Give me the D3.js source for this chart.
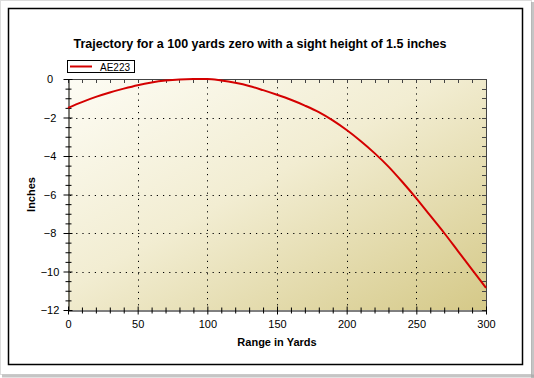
<!DOCTYPE html>
<html>
<head>
<meta charset="utf-8">
<script src="https://cdn.jsdelivr.net/npm/d3@7"></script>
<style>
  html, body { margin: 0; padding: 0; background: #ffffff; }
  svg { display: block; }
  text { font-family: "Liberation Sans", Arial, sans-serif; }
</style>
</head>
<body>
<svg id="chart" width="534" height="378"></svg>
<script>
// ---- data ----
const title = "Trajectory for a 100 yards zero with a sight height of 1.5 inches";
const seriesName = "AE223";
const rangeYards = [0, 10, 20, 30, 40, 50, 60, 70, 80, 90, 100, 110, 120, 130, 140, 150,
                    160, 170, 180, 190, 200, 210, 220, 230, 240, 250, 260, 270, 280, 290, 300];
const dropInches = [-1.50, -1.20, -0.93, -0.70, -0.50, -0.32, -0.18, -0.08, -0.02, 0.00, 0.00,
                    -0.08, -0.20, -0.36, -0.58, -0.82, -1.08, -1.38, -1.72, -2.15, -2.65,
                    -3.22, -3.85, -4.55, -5.35, -6.20, -7.10, -8.00, -8.95, -9.90, -10.85];
const xTicks = [0, 50, 100, 150, 200, 250, 300];
const yTicks = [0, -2, -4, -6, -8, -10, -12];
const xLabel = "Range in Yards";
const yLabel = "Inches";

// ---- layout ----
const svg = d3.select("#chart");
const plot = { left: 68, right: 486, top: 79, bottom: 310 };

const x = d3.scaleLinear().domain([0, 300]).range([plot.left, plot.right]);
const y = d3.scaleLinear().domain([-12, 0]).range([plot.bottom, plot.top]);

// outer frame (photo border with shadow on right/bottom)
svg.append("rect").attr("x", 0).attr("y", 0).attr("width", 534).attr("height", 378)
  .attr("fill", "#ffffff");
svg.append("rect").attr("x", 0.5).attr("y", 0.5).attr("width", 531).attr("height", 374)
  .attr("fill", "none").attr("stroke", "#dcdcdc").attr("stroke-width", 1);
svg.append("line").attr("x1", 2).attr("x2", 534).attr("y1", 376).attr("y2", 376)
  .attr("stroke", "#a0a0a0").attr("stroke-width", 3).attr("opacity", 0.6);
svg.append("line").attr("x1", 532.5).attr("x2", 532.5).attr("y1", 2).attr("y2", 378)
  .attr("stroke", "#a0a0a0").attr("stroke-width", 3).attr("opacity", 0.6);
svg.append("rect").attr("x", 8.5).attr("y", 8.5).attr("width", 514).attr("height", 356)
  .attr("fill", "#ffffff").attr("stroke", "#000000").attr("stroke-width", 1.5);

// gradient background
const defs = svg.append("defs");
const grad = defs.append("linearGradient").attr("id", "bg")
  .attr("x1", "0").attr("y1", "0").attr("x2", "1").attr("y2", "1");
grad.append("stop").attr("offset", "0").attr("stop-color", "#fdfcf4");
grad.append("stop").attr("offset", "0.45").attr("stop-color", "#f2edd2");
grad.append("stop").attr("offset", "1").attr("stop-color", "#d5c988");

svg.append("rect").attr("x", plot.left).attr("y", plot.top)
  .attr("width", plot.right - plot.left).attr("height", plot.bottom - plot.top)
  .attr("fill", "url(#bg)");

// grid lines (dotted)
const grid = svg.append("g").attr("stroke", "#000").attr("stroke-width", 1)
  .attr("stroke-dasharray", "1.2,5");
xTicks.filter(v => v > 0 && v < 300).forEach(v => {
  grid.append("line").attr("x1", Math.round(x(v)) + 0.5).attr("x2", Math.round(x(v)) + 0.5)
    .attr("y1", plot.top + 2).attr("y2", plot.bottom);
});
yTicks.filter(v => v < 0 && v > -12).forEach(v => {
  grid.append("line").attr("y1", Math.round(y(v)) + 0.5).attr("y2", Math.round(y(v)) + 0.5)
    .attr("x1", plot.left + 2).attr("x2", plot.right);
});

// top & right border with inward ticks
const frame = svg.append("g").attr("stroke", "#444").attr("stroke-width", 1);
frame.append("line").attr("x1", plot.left).attr("x2", plot.right + 0.5)
  .attr("y1", plot.top + 0.5).attr("y2", plot.top + 0.5);
frame.append("line").attr("x1", plot.right + 0.5).attr("x2", plot.right + 0.5)
  .attr("y1", plot.top).attr("y2", plot.bottom);
d3.range(0, 301, 10).forEach(v => {
  const px = Math.round(x(v)) + 0.5;
  frame.append("line").attr("x1", px).attr("x2", px)
    .attr("y1", plot.top).attr("y2", plot.top + 4);
});
d3.range(-12, 0.01, 0.5).forEach(v => {
  const py = Math.round(y(v)) + 0.5;
  frame.append("line").attr("x1", plot.right - 4).attr("x2", plot.right)
    .attr("y1", py).attr("y2", py);
});

// bottom axis
const xAxis = svg.append("g").attr("transform", `translate(0,${plot.bottom + 0.5})`)
  .call(d3.axisBottom(x).tickValues(d3.range(0, 301, 10)).tickSize(3).tickFormat(""));
xAxis.selectAll(".tick line").attr("y1", -3).attr("stroke", "#000");
xAxis.selectAll(".tick").filter(d => d % 50 === 0).select("line").attr("y1", -4).attr("y2", 4);
xAxis.select(".domain").attr("stroke", "#000");
const xLab = svg.append("g").attr("transform", `translate(0,${plot.bottom})`)
  .call(d3.axisBottom(x).tickValues(xTicks).tickSize(0).tickPadding(10));
xLab.select(".domain").remove();
xLab.selectAll("text").attr("font-size", 11).attr("fill", "#000")
  .style("font-family", "'Liberation Sans', Arial, sans-serif");

// left axis
const yAxis = svg.append("g").attr("transform", `translate(${plot.left + 0.5},0)`)
  .call(d3.axisLeft(y).tickValues(d3.range(-12, 0.01, 0.5)).tickSize(3).tickFormat(""));
yAxis.selectAll(".tick line").attr("x1", 3).attr("stroke", "#000");
yAxis.selectAll(".tick").filter(d => Number.isInteger(d) && d % 2 === 0).select("line")
  .attr("x1", 4).attr("x2", -5);
yAxis.select(".domain").attr("stroke", "#000");
const yLab = svg.append("g").attr("transform", `translate(${plot.left},0)`)
  .call(d3.axisLeft(y).tickValues(yTicks).tickSize(0).tickPadding(18));
yLab.select(".domain").remove();
yLab.selectAll("text").attr("font-size", 11).attr("fill", "#000")
  .attr("text-anchor", "middle")
  .style("font-family", "'Liberation Sans', Arial, sans-serif");

// line
const line = d3.line().x((d, i) => x(rangeYards[i])).y(d => y(d)).curve(d3.curveMonotoneX);
svg.append("path").datum(dropInches)
  .attr("fill", "none").attr("stroke", "#d40000").attr("stroke-width", 2)
  .attr("d", line);

// title
svg.append("text").attr("x", 260).attr("y", 48).attr("text-anchor", "middle")
  .attr("font-size", 12.5).attr("font-weight", "bold").attr("fill", "#000").text(title);

// axis titles
svg.append("text").attr("x", (plot.left + plot.right) / 2).attr("y", 346)
  .attr("text-anchor", "middle").attr("font-size", 11).attr("font-weight", "bold")
  .attr("fill", "#000").text(xLabel);
svg.append("text").attr("transform", `translate(35,${(plot.top + plot.bottom) / 2}) rotate(-90)`)
  .attr("text-anchor", "middle").attr("font-size", 11).attr("font-weight", "bold")
  .attr("fill", "#000").text(yLabel);

// legend
const lg = svg.append("g");
lg.append("rect").attr("x", 67.5).attr("y", 60.5).attr("width", 67).attr("height", 12)
  .attr("fill", "#fff").attr("stroke", "#000").attr("stroke-width", 1);
lg.append("line").attr("x1", 70).attr("x2", 92).attr("y1", 66.5).attr("y2", 66.5)
  .attr("stroke", "#d40000").attr("stroke-width", 2);
lg.append("text").attr("x", 100).attr("y", 70.5).attr("font-size", 10).attr("fill", "#000")
  .text(seriesName);
</script>
</body>
</html>
